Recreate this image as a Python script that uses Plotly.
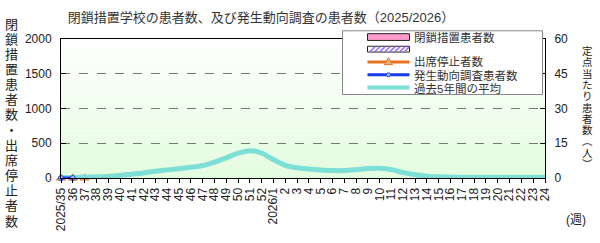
import plotly.graph_objects as go

weeks = ["2025/35", "36", "37", "38", "39", "40", "41", "42", "43", "44", "45", "46",
         "47", "48", "49", "50", "51", "52", "2026/1", "2", "3", "4", "5", "6", "7",
         "8", "9", "10", "11", "12", "13", "14", "15", "16", "17", "18", "19", "20",
         "21", "22", "23", "24"]

avg5y = [0.25, 0.25, 0.4, 0.55, 0.7, 1.1, 1.65, 2.2, 2.9, 3.5, 4.0, 4.6,
         5.4, 6.9, 8.7, 10.7, 11.8, 10.8, 7.9, 5.5, 4.4, 3.9, 3.5, 3.2, 3.2,
         3.6, 4.1, 4.2, 3.6, 2.3, 1.4, 0.8, 0.55, 0.4, 0.35, 0.3, 0.3, 0.3,
         0.3, 0.3, 0.3, 0.3]

closure_weeks = ["2025/35", "36", "37"]
closure_patients = [0, 0, 0]
closure_other = [0, 0, 0]

absent_weeks = ["2025/35", "36", "37"]
absent_counts = [0, 0, 0]

survey_weeks = ["2025/35", "36"]
survey_counts = [0, 0]

legend_names = ["閉鎖措置患者数", "", "出席停止者数", "発生動向調査患者数", "過去5年間の平均"]
left_title = "閉鎖措置患者数・出席停止者数"
right_title = ["定", "点", "当", "た", "り", "患", "者", "数", "︵", "人", "︶"]

FONT = "Liberation Sans, Noto Sans CJK JP, sans-serif"
W, H = 600, 243
L, R, T, B = 61, 55, 39, 60
PW, PH = W - L - R, H - T - B

PINK = "#ff99cc"
PURPLE = "#9966ff"
ORANGE = "#e8731e"
BLUE = "#1a3cf0"
CYAN = "#7ddfd6"


def px(x):
    return (x - L) / PW


def py(y):
    return (H - B - y) / PH


fig = go.Figure()

fig.add_trace(go.Bar(x=closure_weeks, y=closure_patients, name=legend_names[0],
                     marker=dict(color=PINK, line=dict(color="#222", width=1))))
fig.add_trace(go.Bar(x=closure_weeks, y=closure_other, name=legend_names[1],
                     marker=dict(color="white", line=dict(color="#222", width=1),
                                 pattern=dict(shape="/", fgcolor=PURPLE, size=5, solidity=0.4))))
fig.add_trace(go.Scatter(x=weeks, y=avg5y, name=legend_names[4], mode="lines", yaxis="y2",
                         line=dict(color=CYAN, width=5, shape="spline", smoothing=0.8)))
fig.add_trace(go.Scatter(x=absent_weeks, y=absent_counts, name=legend_names[2], mode="lines+markers",
                         line=dict(color=ORANGE, width=3),
                         marker=dict(symbol="triangle-up", size=8, color="#f2b27c",
                                     line=dict(color=ORANGE, width=1)),
                         cliponaxis=False))
fig.add_trace(go.Scatter(x=survey_weeks, y=survey_counts, name=legend_names[3], mode="lines+markers",
                         yaxis="y2", line=dict(color=BLUE, width=3),
                         marker=dict(symbol="circle", size=5, color="#9fc8ff",
                                     line=dict(color=BLUE, width=1)),
                         cliponaxis=False))

shapes = []
# gradient background
n = 36
top = (255, 255, 255)
bot = (226, 252, 222)
for k in range(n):
    t = (k + 0.5) / n
    c = tuple(int(round(top[j] * (1 - t) + bot[j] * t)) for j in range(3))
    shapes.append(dict(type="rect", xref="x domain", yref="y domain",
                       x0=0, x1=1, y0=1 - (k + 1) / n, y1=1 - k / n,
                       fillcolor="rgb(%d,%d,%d)" % c, line=dict(width=0), layer="below"))

# manual legend (drawn above plot)
lx0, lx1, ly0, ly1 = 342.5, 542.5, 30.5, 96.5
shapes.append(dict(type="rect", xref="paper", yref="paper", x0=px(lx0), x1=px(lx1),
                   y0=py(ly1), y1=py(ly0), fillcolor="white",
                   line=dict(color="#888", width=1), layer="above"))
ix0, ix1 = 367.5, 409.5
rows = [36.7, 49.3, 62.7, 76.0, 89.3]
shapes.append(dict(type="rect", xref="paper", yref="paper", x0=px(ix0), x1=px(ix1),
                   y0=py(40.5), y1=py(33.5), fillcolor=PINK,
                   line=dict(color="#222", width=1), layer="above"))
shapes.append(dict(type="rect", xref="paper", yref="paper", x0=px(ix0), x1=px(ix1),
                   y0=py(52.5), y1=py(46.5), fillcolor="white",
                   line=dict(color="#222", width=1), layer="above"))
for xs in range(370, 409, 5):
    shapes.append(dict(type="line", xref="paper", yref="paper",
                       x0=px(xs), y0=py(52), x1=px(min(xs + 5, 409)), y1=py(47),
                       line=dict(color=PURPLE, width=1.5), layer="above"))
shapes.append(dict(type="line", xref="paper", yref="paper", x0=px(ix0), x1=px(ix1),
                   y0=py(rows[2]), y1=py(rows[2]), line=dict(color=ORANGE, width=3), layer="above"))
shapes.append(dict(type="path", xref="paper", yref="paper",
                   path="M %f,%f L %f,%f L %f,%f Z" % (px(384.5), py(65.5), px(392.5), py(65.5),
                                                        px(388.5), py(58.5)),
                   fillcolor="#f2b27c", line=dict(color=ORANGE, width=1), layer="above"))
shapes.append(dict(type="line", xref="paper", yref="paper", x0=px(ix0), x1=px(ix1),
                   y0=py(rows[3]), y1=py(rows[3]), line=dict(color=BLUE, width=3), layer="above"))
shapes.append(dict(type="circle", xref="paper", yref="paper", x0=px(386.5), x1=px(390.5),
                   y0=py(78), y1=py(74), fillcolor="#9fc8ff",
                   line=dict(color=BLUE, width=1), layer="above"))
shapes.append(dict(type="line", xref="paper", yref="paper", x0=px(ix0), x1=px(ix1),
                   y0=py(rows[4]), y1=py(rows[4]), line=dict(color=CYAN, width=4), layer="above"))

ann = []
for name, ry in zip(legend_names, rows):
    if name:
        ann.append(dict(text=name, xref="paper", yref="paper", showarrow=False,
                        x=px(412), y=py(ry), xanchor="left", yanchor="middle",
                        font=dict(size=11.5, color="#333", family=FONT), height=12))

# left vertical title
for i, ch in enumerate(left_title):
    ann.append(dict(text=ch, xref="paper", yref="paper", showarrow=False,
                    x=px(11), y=py(23 + 15.7 * i), height=14, borderpad=0,
                    xanchor="center", yanchor="middle",
                    font=dict(size=13, color="#222", family=FONT)))
for i, ch in enumerate(right_title):
    ann.append(dict(text=ch, xref="paper", yref="paper", showarrow=False,
                    x=px(587), y=py(51 + 11.7 * i), height=11, borderpad=0,
                    xanchor="center", yanchor="middle",
                    font=dict(size=10.5, color="#222", family=FONT)))
ann.append(dict(text="(週)", xref="paper", yref="paper", showarrow=False,
                x=px(576), y=py(226), xanchor="center", yanchor="middle",
                font=dict(size=12, color="#222", family=FONT)))

fig.update_layout(
    width=W, height=H,
    margin=dict(l=L, r=R, t=T, b=B),
    paper_bgcolor="white", plot_bgcolor="rgba(0,0,0,0)",
    font=dict(family=FONT, size=12, color="#222"),
    title=dict(text="閉鎖措置学校の患者数、及び発生動向調査の患者数（2025/2026）",
               xref="container", yref="container", x=261 / W, y=1 - 17 / H,
               xanchor="center", yanchor="middle",
               font=dict(size=13, color="#333", family=FONT)),
    showlegend=False,
    barmode="group",
    xaxis=dict(type="category", categoryorder="array", categoryarray=weeks,
               range=[0, len(weeks) - 1], tickangle=-90, dtick=1,
               ticks="outside", ticklen=4, tickcolor="black",
               showline=True, linecolor="black", linewidth=1, mirror=True,
               showgrid=False, tickfont=dict(size=12), fixedrange=True),
    yaxis=dict(range=[0, 2000], dtick=500, ticks="inside", ticklen=5, tickcolor="black",
               showline=True, linecolor="black", linewidth=1,
               showgrid=True, gridcolor="#777", griddash="dash", gridwidth=1,
               zeroline=False, tickfont=dict(size=12), ticklabelstandoff=6),
    yaxis2=dict(range=[0, 60], dtick=15, overlaying="y", side="right",
                ticks="inside", ticklen=5, tickcolor="black",
                showline=True, linecolor="black", linewidth=1,
                showgrid=False, zeroline=False, tickfont=dict(size=12), ticklabelstandoff=6),
    shapes=shapes,
    annotations=ann,
)

fig.write_html("out.html")
